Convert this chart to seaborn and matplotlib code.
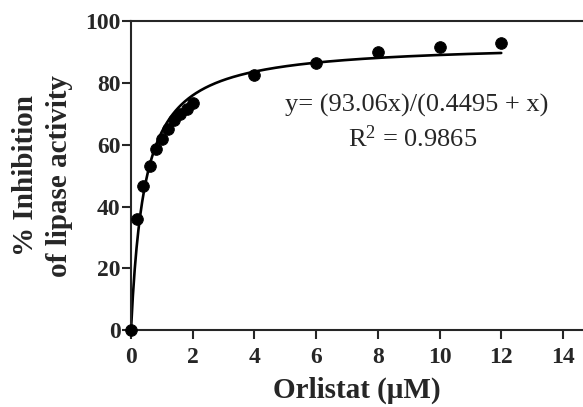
import matplotlib
matplotlib.use("Agg")
import matplotlib.pyplot as plt
import numpy as np
import pandas as pd
import seaborn as sns

orlistat = [0, 0.2, 0.4, 0.6, 0.8, 1.0, 1.2, 1.4, 1.6, 1.8, 2.0, 4, 6, 8, 10, 12]
inhibition = [0, 36, 46.5, 53, 58.5, 62, 65, 68, 70, 71.5, 73.5, 82.5, 86.6, 89.9, 91.5, 92.8]

# fit parameters printed on the chart
vmax = 93.06
km = 0.4495

xticks = [0, 2, 4, 6, 8, 10, 12, 14]
yticks = [0, 20, 40, 60, 80, 100]

df = pd.DataFrame({"x": orlistat, "y": inhibition})
xfit = np.linspace(0, 12, 400)
fit = pd.DataFrame({"x": xfit, "y": vmax * xfit / (km + xfit)})

sns.set_style("ticks")
plt.rcParams['font.family'] = ['Liberation Serif', 'DejaVu Serif']
plt.rcParams['mathtext.fontset'] = 'custom'
plt.rcParams['mathtext.rm'] = 'Liberation Serif'
plt.rcParams['mathtext.it'] = 'Liberation Serif:italic'
plt.rcParams['mathtext.bf'] = 'Liberation Serif:bold'

fig = plt.figure(figsize=(5.83, 4.07), dpi=100)
ax = fig.add_axes([0.2247, 0.189, 0.7753, 0.759])

sns.lineplot(data=fit, x="x", y="y", ax=ax, color="black", linewidth=1.9)
sns.scatterplot(data=df, x="x", y="y", ax=ax, color="black", s=70,
                edgecolor="black", zorder=5, clip_on=False)

ax.set_xlim(0, 14.65)
ax.set_ylim(0, 100)
ax.set_xticks(xticks)
ax.set_yticks(yticks)
for lab in ax.get_xticklabels() + ax.get_yticklabels():
    lab.set_fontweight("bold")
ax.tick_params(labelsize=17, width=1.5, length=6.5, direction="out")
ax.tick_params(axis="x", pad=6)
ax.tick_params(axis="y", pad=1)

ax.spines["right"].set_visible(False)
for s in ["left", "bottom", "top"]:
    ax.spines[s].set_linewidth(1.5)

ax.set_xlabel("Orlistat (\u03bcM)", fontsize=21, fontweight="bold", labelpad=6)
ax.set_ylabel("% Inhibition\nof lipase activity", fontsize=21, fontweight="bold",
              linespacing=1.35)
ax.yaxis.set_label_coords(-0.128, 0.5)

ax.text(9.27, 72.8, "y= (93.06x)/(0.4495 + x)", fontsize=19, ha="center", va="center")
ax.text(9.14, 62.1, "R$\\mathrm{^2}$ = 0.9865", fontsize=19, ha="center", va="center")

fig.savefig("out.png", dpi=100)
